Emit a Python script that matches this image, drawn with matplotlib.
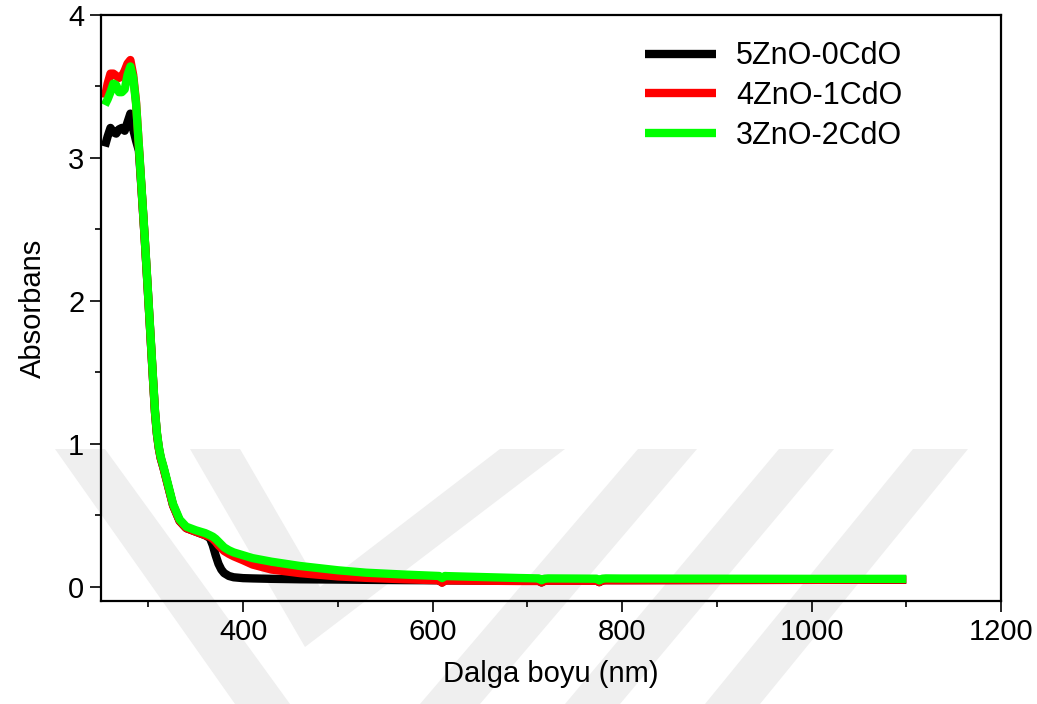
import matplotlib
matplotlib.use('Agg')
from matplotlib import pyplot as plt
from matplotlib.patches import Polygon
from matplotlib.ticker import MultipleLocator

plt.rcParams['font.family'] = ['Liberation Sans', 'DejaVu Sans']

wavelength = [254, 257, 260, 263, 266, 269, 272, 275, 278, 281,
              284, 287, 290, 293, 296, 299, 302, 305, 307, 309,
              311, 313, 316, 321, 326, 333, 340, 350, 360, 365,
              368, 371, 374, 377, 380, 385, 390, 400, 410, 430,
              460, 500, 530, 570, 607, 610, 613, 616, 650, 690,
              712, 715, 718, 722, 750, 773, 776, 779, 783, 800,
              900, 1000, 1100]

abs_5zno = [3.08, 3.15, 3.21, 3.18, 3.17, 3.20, 3.21, 3.19, 3.25, 3.31,
            3.20, 3.12, 3.05, 2.76, 2.45, 2.12, 1.78, 1.44, 1.22, 1.07,
            0.97, 0.90, 0.83, 0.70, 0.57, 0.46, 0.41, 0.385, 0.36, 0.34,
            0.29, 0.22, 0.16, 0.12, 0.095, 0.075, 0.066, 0.06, 0.058, 0.055,
            0.052, 0.05, 0.048, 0.046, 0.045, 0.03, 0.044, 0.044, 0.043, 0.042,
            0.042, 0.03, 0.042, 0.043, 0.043, 0.043, 0.032, 0.044, 0.046, 0.046,
            0.047, 0.048, 0.049]

abs_4zno = [3.42, 3.52, 3.59, 3.59, 3.575, 3.56, 3.57, 3.61, 3.66, 3.685,
            3.58, 3.39, 3.08, 2.76, 2.45, 2.12, 1.78, 1.44, 1.22, 1.07,
            0.97, 0.90, 0.83, 0.70, 0.57, 0.46, 0.41, 0.385, 0.36, 0.35,
            0.335, 0.315, 0.29, 0.27, 0.25, 0.23, 0.213, 0.185, 0.155, 0.12,
            0.095, 0.072, 0.062, 0.052, 0.045, 0.028, 0.044, 0.044, 0.042, 0.04,
            0.04, 0.03, 0.04, 0.042, 0.042, 0.042, 0.032, 0.043, 0.045, 0.045,
            0.047, 0.048, 0.05]

abs_3zno = [3.37, 3.41, 3.46, 3.52, 3.51, 3.46, 3.46, 3.48, 3.58, 3.64,
            3.56, 3.38, 3.08, 2.77, 2.46, 2.13, 1.79, 1.45, 1.23, 1.08,
            0.98, 0.91, 0.84, 0.71, 0.58, 0.47, 0.42, 0.395, 0.375, 0.36,
            0.35, 0.335, 0.315, 0.295, 0.275, 0.255, 0.24, 0.22, 0.20, 0.175,
            0.145, 0.115, 0.098, 0.085, 0.075, 0.06, 0.075, 0.074, 0.068, 0.061,
            0.058, 0.045, 0.056, 0.058, 0.057, 0.056, 0.044, 0.056, 0.058, 0.057,
            0.056, 0.055, 0.055]

series = [(abs_5zno, 'black', '5ZnO-0CdO'),
          (abs_4zno, 'red', '4ZnO-1CdO'),
          (abs_3zno, '#00ff00', '3ZnO-2CdO')]

W, H = 1037, 704
fig = plt.figure(figsize=(W / 100, H / 100), dpi=100)

# faint watermark behind the axes (pixel coords, y from top)
watermark = [
    [(55, 449), (105, 449), (290, 704), (235, 704)],
    [(190, 449), (240, 449), (320, 587), (500, 449), (565, 449), (305, 647)],
    [(638, 449), (697, 449), (480, 704), (420, 704)],
    [(779, 449), (834, 449), (620, 704), (565, 704)],
    [(913, 449), (968, 449), (760, 704), (705, 704)],
]
for shape in watermark:
    pts = [(x / W, 1 - y / H) for x, y in shape]
    fig.patches.append(Polygon(pts, closed=True, transform=fig.transFigure,
                               facecolor='#efefef', edgecolor='none', zorder=-5))

ax = fig.add_axes([101 / W, 1 - 601 / H, 900 / W, 586 / H])
ax.set_facecolor('none')

for values, color, label in series:
    ax.plot(wavelength, values, color=color, lw=6, label=label,
            solid_capstyle='butt', solid_joinstyle='round')

ax.set_xlim(250, 1200)
ax.set_ylim(-0.1, 4)
ax.xaxis.set_minor_locator(MultipleLocator(100))
ax.yaxis.set_major_locator(MultipleLocator(1))
ax.yaxis.set_minor_locator(MultipleLocator(0.5))
ax.set_xticks([400, 600, 800, 1000, 1200])

ax.tick_params(which='major', direction='out', length=8, width=1.2, labelsize=21, pad=4,
               top=False, right=False)
ax.tick_params(which='minor', direction='out', length=4.5, width=1.2, top=False, right=False)
for sp in ax.spines.values():
    sp.set_linewidth(1.6)

ax.set_xlabel('Dalga boyu (nm)', fontsize=21, labelpad=10)
ax.set_ylabel('Absorbans', fontsize=21, labelpad=15)

ax.legend(loc='upper left', bbox_to_anchor=(0.604, 0.955), frameon=False,
          fontsize=22, handlelength=2.35, handletextpad=0.65, labelspacing=0.32,
          borderpad=0, borderaxespad=0)

fig.savefig('out.png', dpi=100)
